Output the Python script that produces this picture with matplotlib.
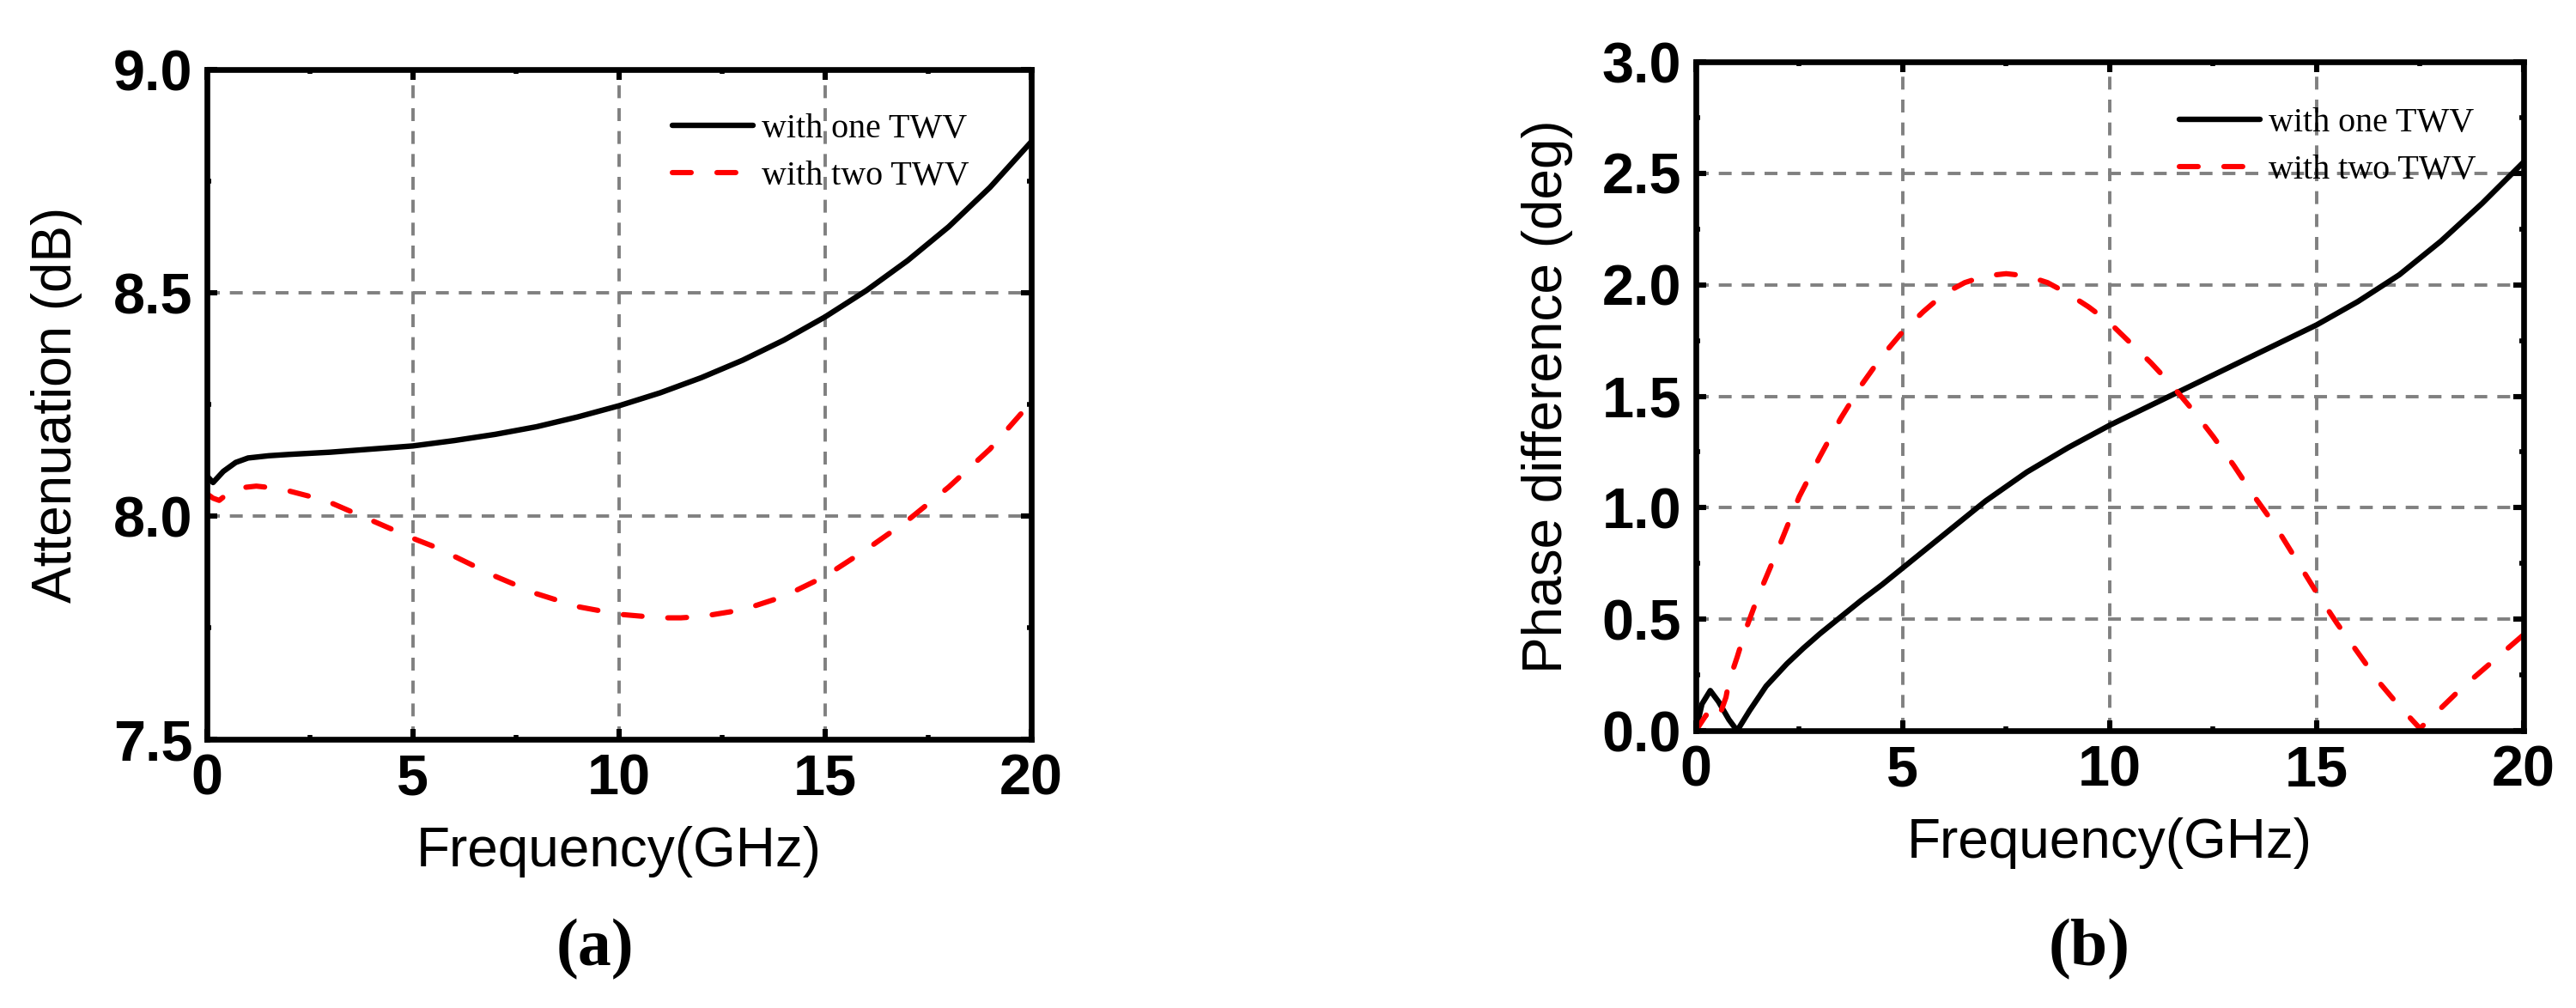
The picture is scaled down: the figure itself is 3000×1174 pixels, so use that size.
"""
Attenuation and phase difference vs frequency, one vs two TWVs.
Writes out.png (3000x1174).
"""

import matplotlib
matplotlib.use("Agg")
import matplotlib.pyplot as plt
from matplotlib.ticker import MultipleLocator, FormatStrFormatter

plt.rcParams["lines.scale_dashes"] = False

SANS = ["Liberation Sans", "DejaVu Sans"]
SERIF = ["Liberation Serif", "DejaVu Serif"]

# ---- data --------------------------------------------------------------------
# (a) attenuation, dB
att_one_f = [0, 0.15, 0.4, 0.7, 1.0, 1.5, 2, 3, 4, 5, 6, 7, 8, 9, 10,
             11, 12, 13, 14, 15, 16, 17, 18, 19, 20]
att_one = [8.09, 8.075, 8.10, 8.12, 8.13, 8.135, 8.138, 8.143, 8.15, 8.157,
           8.169, 8.183, 8.200, 8.222, 8.247, 8.276, 8.310, 8.349, 8.394,
           8.446, 8.505, 8.572, 8.648, 8.736, 8.838]

att_two_f = [0, 0.15, 0.3, 0.5, 0.8, 1.2, 1.6, 2.0, 2.5, 3.0, 3.5, 4.0, 4.5,
             5.0, 5.5, 6.0, 7.0, 8.0, 9.0, 10.0, 11.0, 11.5, 12.0, 13.0,
             14.0, 15.0, 16.0, 17.0, 18.0, 19.0, 20.0]
att_two = [8.05, 8.04, 8.035, 8.05, 8.063, 8.067, 8.063, 8.056, 8.044, 8.03,
           8.01, 7.99, 7.97, 7.95, 7.932, 7.91, 7.865, 7.826, 7.797, 7.78,
           7.772, 7.772, 7.775, 7.79, 7.82, 7.865, 7.925, 7.99, 8.065,
           8.15, 8.255]

# (b) phase difference, deg
ph_one_f = [0, 0.15, 0.35, 0.55, 0.8, 1.0, 1.3, 1.7, 2.2, 2.6, 3.0, 3.5, 4.0,
            4.5, 5.0, 6.0, 7.0, 8.0, 9.0, 10.0, 11.0, 12.0, 13.0, 14.0,
            15.0, 16.0, 17.0, 18.0, 19.0, 20.0]
ph_one = [0.0, 0.12, 0.18, 0.13, 0.05, 0.0, 0.09, 0.2, 0.3, 0.37, 0.435,
          0.51, 0.585, 0.655, 0.73, 0.88, 1.03, 1.16, 1.27, 1.37, 1.46, 1.55,
          1.64, 1.73, 1.82, 1.925, 2.045, 2.195, 2.365, 2.55]

ph_two_f = [0, 0.25, 0.4, 0.52, 0.73, 0.8, 1.0, 1.2, 1.5, 2.0, 2.5, 3.0, 3.5,
            4.0, 4.5, 5.0, 5.5, 6.0, 6.5, 7.0, 7.5, 8.0, 8.5, 9.0, 9.5, 10.0,
            10.5, 11.0, 11.5, 12.0, 12.5, 13.0, 13.5, 14.0, 14.5, 15.0, 15.5,
            16.0, 16.5, 17.0, 17.5, 18.0, 18.5, 19.0, 19.5, 20.0]
ph_two = [0.0, 0.07, 0.06, 0.04, 0.15, 0.22, 0.33, 0.45, 0.6, 0.82, 1.05,
          1.23, 1.40, 1.55, 1.68, 1.79, 1.88, 1.96, 2.01, 2.04, 2.05, 2.04,
          2.01, 1.96, 1.90, 1.83, 1.74, 1.65, 1.55, 1.44, 1.32, 1.19, 1.05,
          0.92, 0.77, 0.62, 0.48, 0.35, 0.22, 0.11, 0.01, 0.10, 0.19, 0.27,
          0.35, 0.43]

labels = ["with one TWV", "with two TWV"]

# ---- figure -----------------------------------------------------------------
fig = plt.figure(figsize=(15, 5.87), dpi=200)
ax_a = fig.add_axes([0.0803, 0.2666, 0.320, 0.6644])
ax_b = fig.add_axes([0.6583, 0.2751, 0.3213, 0.6635])


def style(ax, ylim, ystep, ylabel, labelpad):
    ax.set_xlim(0, 20)
    ax.set_ylim(*ylim)
    ax.xaxis.set_major_locator(MultipleLocator(5))
    ax.xaxis.set_minor_locator(MultipleLocator(2.5))
    ax.yaxis.set_major_locator(MultipleLocator(ystep))
    ax.yaxis.set_minor_locator(MultipleLocator(ystep / 2))
    ax.yaxis.set_major_formatter(FormatStrFormatter("%.1f"))
    ax.tick_params(which="both", direction="in", top=True, right=True)
    ax.tick_params(which="major", length=4.3, width=2.2, pad=6)
    ax.tick_params(which="minor", length=1.8, width=2.0)
    for lab in ax.get_xticklabels() + ax.get_yticklabels():
        lab.set_family(SANS)
        lab.set_fontweight("bold")
        lab.set_fontsize(24)
    for sp in ax.spines.values():
        sp.set_linewidth(2.4)
    ax.grid(True, which="major", color="#808080",
            linestyle=(0, (5.4, 4.2)), linewidth=1.4)
    ax.set_xlabel("Frequency(GHz)", family=SANS, fontsize=23, labelpad=8)
    ax.set_ylabel(ylabel, family=SANS, fontsize=23, labelpad=labelpad)


def curves(ax, f1, y1, f2, y2, anchor):
    ax.plot(f1, y1, color="black", lw=2.3, solid_capstyle="round",
            label=labels[0])
    ax.plot(f2, y2, color="red", lw=2.2, linestyle=(0, (7.9, 10.8)),
            dash_capstyle="round", label=labels[1])
    ax.legend(loc="upper left", bbox_to_anchor=anchor, frameon=False,
              borderpad=0, borderaxespad=0, handlelength=2.35,
              handletextpad=0.25, labelspacing=0.45,
              prop={"family": SERIF, "size": 14.4})


curves(ax_a, att_one_f, att_one, att_two_f, att_two, (0.565, 0.935))
style(ax_a, (7.5, 9.0), 0.5, "Attenuation (dB)", 13)

curves(ax_b, ph_one_f, ph_one, ph_two_f, ph_two, (0.584, 0.932))
style(ax_b, (0, 3.0), 0.5, "Phase difference (deg)", 12)

# panel tags sit a little left of the axes centre in the reference
for x, tag in ((0.231, "(a)"), (0.811, "(b)")):
    fig.text(x, 0.058, tag, ha="center", va="center",
             family=SERIF, fontweight="bold", fontsize=28)

fig.savefig("out.png", dpi=200)
